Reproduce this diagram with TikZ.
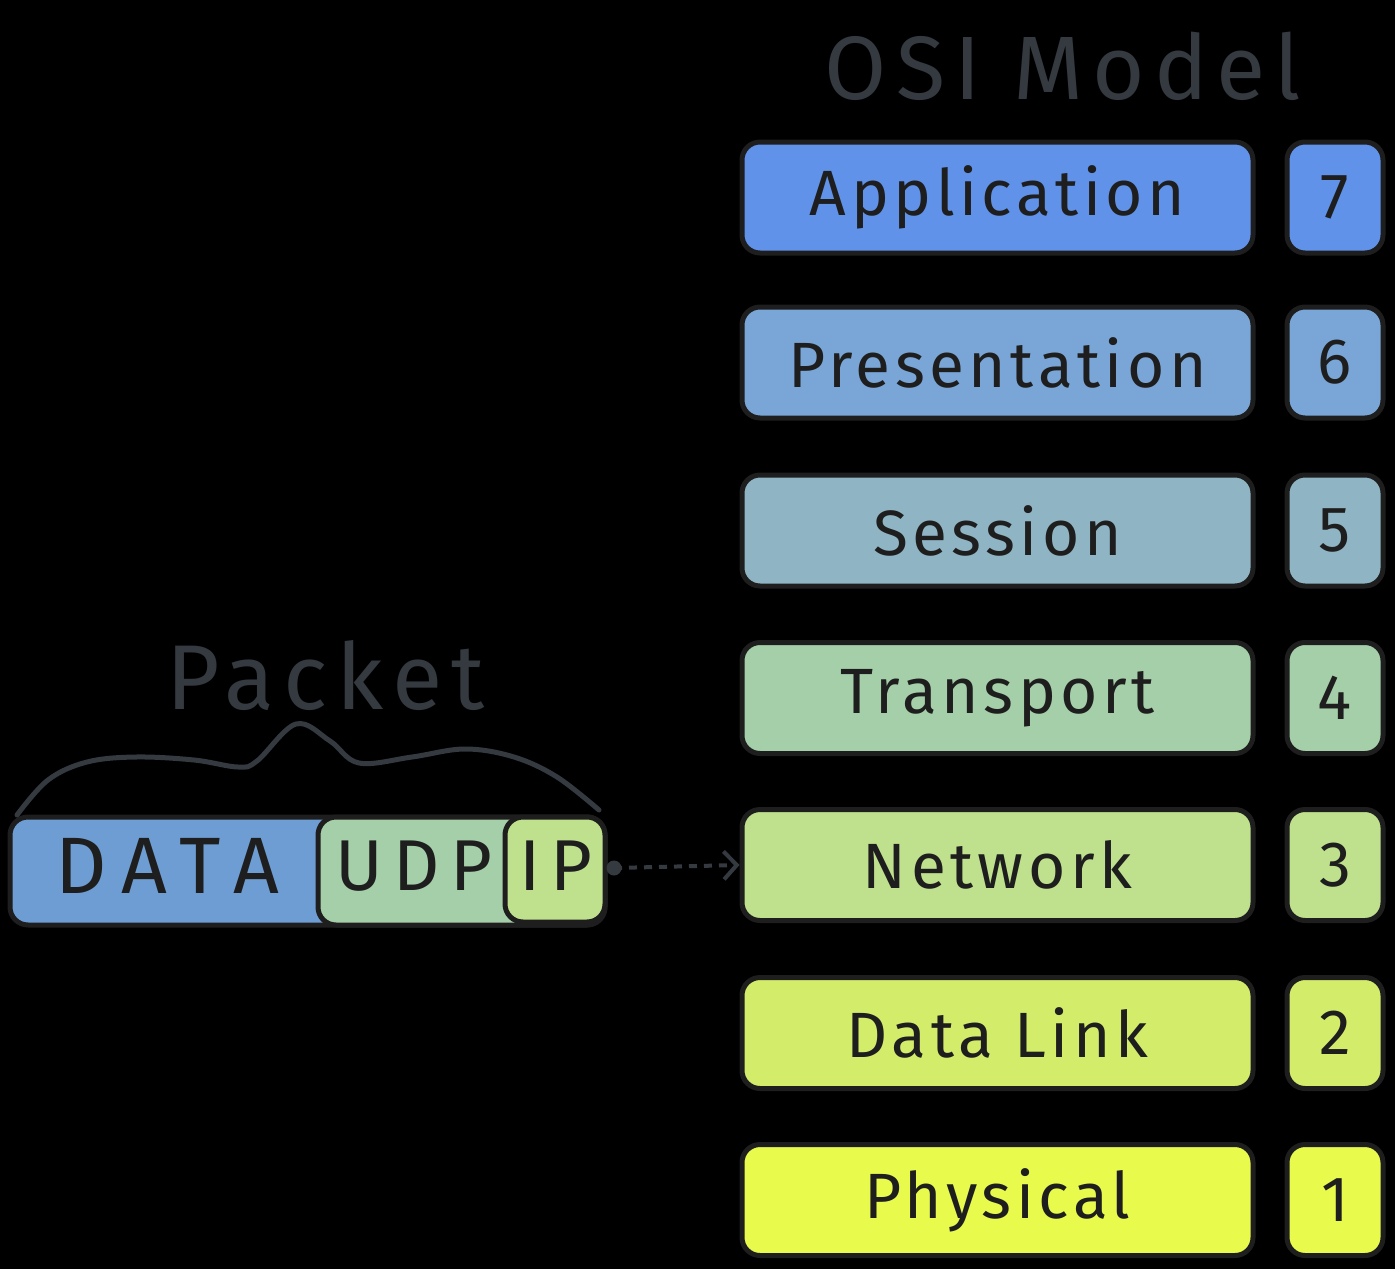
\documentclass[tikz,border=0pt]{standalone}
\usepackage{fontspec}
\setmainfont{Fira Sans}
\newfontfamily\lsA{Fira Sans}[LetterSpace=7]
\newfontfamily\lsB{Fira Sans}[LetterSpace=14]
\newfontfamily\lsC{Fira Sans}[LetterSpace=20]
\newfontfamily\lsT{Fira Sans}[LetterSpace=10]
\usetikzlibrary{arrows.meta}
\definecolor{ink}{HTML}{1E1E1E}
\definecolor{gray}{HTML}{343A40}
\definecolor{cApp}{HTML}{6092EA}
\definecolor{cPre}{HTML}{79A6D6}
\definecolor{cSes}{HTML}{8FB4C3}
\definecolor{cTra}{HTML}{A5CFA8}
\definecolor{cNet}{HTML}{BFE08C}
\definecolor{cDat}{HTML}{D3ED6B}
\definecolor{cPhy}{HTML}{E8FB4C}
\definecolor{cData}{HTML}{6D9DD3}
\tikzset{
  layer/.style={draw=ink, line width=5pt, rounded corners=18pt, minimum width=511pt, minimum height=111pt, inner sep=0pt, text=ink, font=\lsA\fontsize{64}{70}\selectfont},
  numbox/.style={layer, minimum width=96pt, font=\fontsize{64}{70}\selectfont},
  pktbox/.style={draw=ink, line width=5pt, rounded corners=18pt, minimum height=108pt, inner sep=0pt},
  pktlabel/.style={text=ink, inner sep=0pt, font=\lsB\fontsize{72}{76}\selectfont},
  title/.style={text=gray, inner sep=0pt},
}
\begin{document}
\begin{tikzpicture}[x=1pt,y=-1pt]
\path[fill=black] (0,0) rectangle (1395,1269);
\useasboundingbox (0,0) rectangle (1395,1269);

\node[title, font=\lsT\fontsize{90}{94}\selectfont] (osi) at (1063,66) {OSI Model};

\node[layer, fill=cApp] (app) at (997.5,197.5) {Application};
\node[numbox, fill=cApp] (n7) at (1335,197.5) {7};
\node[layer, fill=cPre] (pre) at (997.5,362.5) {Presentation};
\node[numbox, fill=cPre] (n6) at (1335,362.5) {6};
\node[layer, fill=cSes] (ses) at (997.5,530.5) {Session};
\node[numbox, fill=cSes] (n5) at (1335,530.5) {5};
\node[layer, fill=cTra] (tra) at (997.5,698) {Transport};
\node[numbox, fill=cTra] (n4) at (1335,698) {4};
\node[layer, fill=cNet] (net) at (997.5,865) {Network};
\node[numbox, fill=cNet] (n3) at (1335,865) {3};
\node[layer, fill=cDat] (dl) at (997.5,1033) {Data Link};
\node[numbox, fill=cDat] (n2) at (1335,1033) {2};
\node[layer, fill=cPhy] (phy) at (997.5,1200) {Physical};
\node[numbox, fill=cPhy] (n1) at (1335,1200) {1};

% packet
\node[pktbox, fill=cData, minimum width=595pt] (data) at (307.5,871) {};
\node[pktbox, fill=cTra, minimum width=287pt] (udp) at (461.5,871) {};
\node[pktbox, fill=cNet, minimum width=100pt, minimum height=105pt] (ip) at (555,869.5) {};
\node[pktlabel, font=\lsC\fontsize{80}{84}\selectfont] (tdata) at (167,866) {DATA};
\node[pktlabel] (tudp) at (414,866) {UDP};
\node[pktlabel] (tip) at (556,866) {IP};

\node[title, font=\lsT\fontsize{92}{96}\selectfont] (pkt) at (326,676) {Packet};

\draw[gray, line width=5pt, line cap=round, line join=round] plot[smooth, tension=0.6] coordinates {
 (17,815) (48,780) (87,762) (136,757) (194,760) (238,767) (257,761) (296,724) (330,741) (359,763) (412,757) (465,749) (514,757) (557,777) (599,810)};

\coordinate (dot) at (614,868);
\fill[gray] (dot) circle (7.5pt);
\draw[gray, line width=4pt, dashed, dash pattern=on 8pt off 7pt, -{Straight Barb[length=13pt,width=28pt,line width=4pt]}] (dot) -- (net.west);
\end{tikzpicture}
\end{document}
